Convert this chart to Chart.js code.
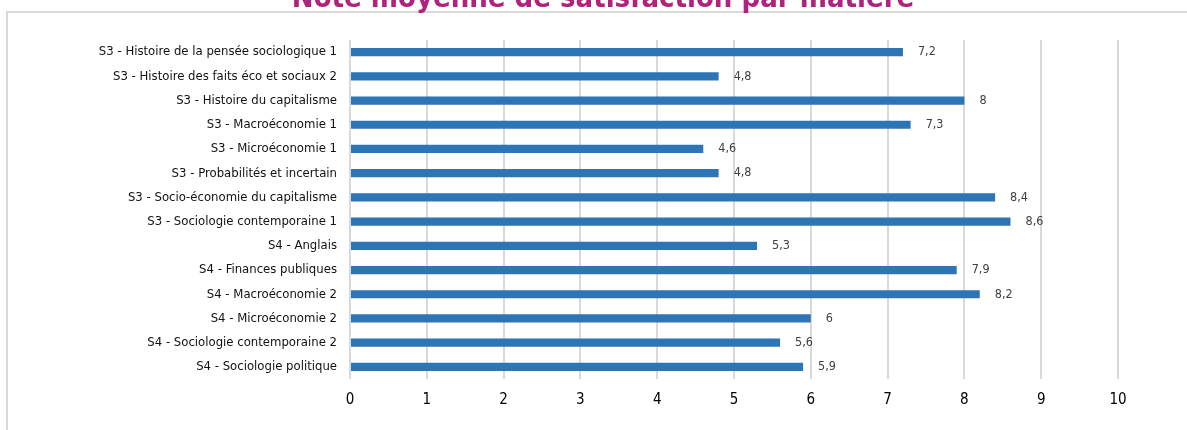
<!DOCTYPE html>
<html>
<head>
<meta charset="utf-8">
<script src="https://cdn.jsdelivr.net/npm/chart.js@4/dist/chart.umd.min.js"></script>
<style>
  html, body { margin: 0; padding: 0; background: #fff; overflow: hidden; }
  #frame {
    position: absolute; left: 6px; top: 11px; width: 1300px; height: 500px;
    border: 2px solid #d9d9d9; box-sizing: border-box;
  }
  #wrap { position: absolute; left: 0; top: -21px; width: 1187px; height: 451px; }
</style>
</head>
<body>
<div id="frame"></div>
<div id="wrap"><canvas id="chart"></canvas></div>
<script>
const titleText = 'Note moyenne de satisfaction par matière';
const subjects = [
  'S3 - Histoire de la pensée sociologique 1',
  'S3 - Histoire des faits éco et sociaux 2',
  'S3 - Histoire du capitalisme',
  'S3 - Macroéconomie 1',
  'S3 - Microéconomie 1',
  'S3 - Probabilités et incertain',
  'S3 - Socio-économie du capitalisme',
  'S3 - Sociologie contemporaine 1',
  'S4 - Anglais',
  'S4 - Finances publiques',
  'S4 - Macroéconomie 2',
  'S4 - Microéconomie 2',
  'S4 - Sociologie contemporaine 2',
  'S4 - Sociologie politique'
];
const avgScores = [7.2, 4.8, 8, 7.3, 4.6, 4.8, 8.4, 8.6, 5.3, 7.9, 8.2, 6, 5.6, 5.9];
const xMin = 0;
const xMax = 10;

const labelFont = '"DejaVu Sans Condensed", "DejaVu Sans", sans-serif';

// writes each value in french notation just past the end of its bar
const valueLabels = {
  id: 'valueLabels',
  afterDatasetsDraw(chart) {
    const ctx = chart.ctx;
    const meta = chart.getDatasetMeta(0);
    ctx.save();
    ctx.font = '12.5px ' + labelFont;
    ctx.fillStyle = '#404040';
    ctx.textAlign = 'left';
    ctx.textBaseline = 'middle';
    meta.data.forEach((bar, i) => {
      const txt = String(avgScores[i]).replace('.', ',');
      ctx.fillText(txt, bar.x + 15, bar.y);
    });
    ctx.restore();
  }
};

// title centred on the frame, not on the padded layout box
const frameTitle = {
  id: 'frameTitle',
  afterDraw(chart) {
    const ctx = chart.ctx;
    ctx.save();
    ctx.font = 'bold 29px ' + labelFont;
    ctx.fillStyle = '#b0237a';
    ctx.textAlign = 'center';
    ctx.textBaseline = 'alphabetic';
    ctx.fillText(titleText, 603, 28);
    ctx.restore();
  }
};

const ctx = document.getElementById('chart').getContext('2d');
new Chart(ctx, {
  type: 'bar',
  data: {
    labels: subjects,
    datasets: [{
      data: avgScores,
      backgroundColor: '#2e75b6',
      barPercentage: 0.34,
      categoryPercentage: 1
    }]
  },
  options: {
    indexAxis: 'y',
    responsive: true,
    maintainAspectRatio: false,
    animation: false,
    layout: { padding: { left: 0, right: 69, top: 61, bottom: 0 } },
    plugins: {
      legend: { display: false },
      tooltip: { enabled: false },
      title: { display: false }
    },
    scales: {
      x: {
        min: xMin,
        max: xMax,
        ticks: {
          stepSize: 1,
          color: '#000',
          padding: 12,
          font: { family: labelFont, size: 15 }
        },
        grid: { color: '#d9d9d9', lineWidth: 2, drawTicks: false },
        border: { display: false },
        afterFit(scale) { scale.height = 51; }
      },
      y: {
        ticks: {
          color: '#111',
          padding: 5,
          autoSkip: false,
          font: { family: labelFont, size: 13 }
        },
        grid: { display: false },
        border: { display: false },
        afterFit(scale) { scale.width = 350; }
      }
    }
  },
  plugins: [valueLabels, frameTitle]
});
</script>
</body>
</html>
